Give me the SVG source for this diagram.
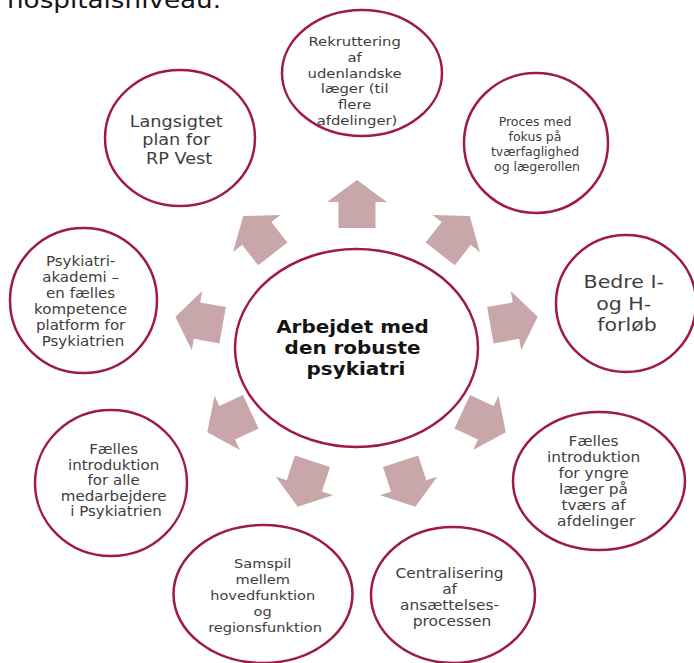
<svg xmlns="http://www.w3.org/2000/svg" width="694" height="663" viewBox="0 0 694 663">
<style>
  .bg { fill: #ffffff; }
  .node ellipse { fill: #ffffff; stroke: #9e1a47; stroke-width: 2.5; }
  .t { font-family: "DejaVu Sans", Verdana, sans-serif; fill: #3e3e3e; text-anchor: middle; }
  .c { font-family: "DejaVu Sans", Verdana, sans-serif; fill: #141414; text-anchor: middle; font-weight: bold; }
  .h { font-family: "DejaVu Sans", Verdana, sans-serif; fill: #141414; }
  .arrow { fill: #c8a6a9; }
</style>
<defs>
  <path id="arr" d="M0,-24 L30,-2 L18.5,-2 L18.5,24 L-18.5,24 L-18.5,-2 L-30,-2 Z"/>
</defs>
<rect class="bg" x="0" y="0" width="694" height="663"/>

<g id="header" transform="translate(7,0) scale(1.14,1)">
  <text class="h" x="0" y="8" font-size="23">hospitalsniveau.</text>
</g>

<g id="connectors" class="arrow">
  <use href="#arr" transform="translate(357,204)"/>
  <use href="#arr" transform="translate(455,235) rotate(38)"/>
  <use href="#arr" transform="translate(514,321) rotate(80)"/>
  <use href="#arr" transform="translate(484,422) rotate(115)"/>
  <use href="#arr" transform="translate(408,484) rotate(162)"/>
  <use href="#arr" transform="translate(305,484) rotate(198)"/>
  <use href="#arr" transform="translate(229,422) rotate(245)"/>
  <use href="#arr" transform="translate(199,321) rotate(280)"/>
  <use href="#arr" transform="translate(258,235) rotate(322)"/>
</g>

<g id="center" class="node">
  <ellipse cx="356.5" cy="348" rx="121.5" ry="99"/>
  <g transform="translate(356,0) scale(1.14,1)">
    <text class="c" font-size="17.5">
      <tspan x="0" y="333">Arbejdet med</tspan>
      <tspan x="0" y="354">den robuste</tspan>
      <tspan x="0" y="375">psykiatri</tspan>
    </text>
  </g>
</g>

<g id="rekruttering" class="node">
  <ellipse cx="362" cy="73" rx="80" ry="63"/>
  <g transform="translate(357,0) scale(1.14,1)">
    <text class="t" font-size="13">
      <tspan x="0" y="46">Rekruttering</tspan>
      <tspan x="0" y="61.8">af</tspan>
      <tspan x="0" y="77.6">udenlandske</tspan>
      <tspan x="0" y="93.4">læger (til</tspan>
      <tspan x="0" y="109.2">flere</tspan>
      <tspan x="0" y="125">afdelinger)</tspan>
    </text>
  </g>
</g>

<g id="langsigtet" class="node">
  <ellipse cx="180" cy="138" rx="75" ry="68"/>
  <g transform="translate(179,0) scale(1.14,1)">
    <text class="t" font-size="15.5">
      <tspan x="0" y="127">Langsigtet</tspan>
      <tspan x="0" y="145.5">plan for</tspan>
      <tspan x="0" y="164">RP Vest</tspan>
    </text>
  </g>
</g>

<g id="proces" class="node">
  <ellipse cx="536" cy="143" rx="72" ry="70"/>
  <g transform="translate(537,0)">
    <text class="t" font-size="12.5">
      <tspan x="0" y="126">Proces med</tspan>
      <tspan x="0" y="141">fokus på</tspan>
      <tspan x="0" y="156">tværfaglighed</tspan>
      <tspan x="0" y="171">og lægerollen</tspan>
    </text>
  </g>
</g>

<g id="psykiatriakademi" class="node">
  <ellipse cx="83.5" cy="300.5" rx="73.5" ry="72.5"/>
  <g transform="translate(83,0) scale(1.14,1)">
    <text class="t" font-size="13.2">
      <tspan x="0" y="266">Psykiatri-</tspan>
      <tspan x="0" y="282">akademi –</tspan>
      <tspan x="0" y="298">en fælles</tspan>
      <tspan x="0" y="314">kompetence</tspan>
      <tspan x="0" y="330">platform for</tspan>
      <tspan x="0" y="346">Psykiatrien</tspan>
    </text>
  </g>
</g>

<g id="bedre" class="node">
  <ellipse cx="626" cy="303.5" rx="70" ry="68.5"/>
  <g transform="translate(627,0) scale(1.14,1)">
    <text class="t" font-size="18">
      <tspan x="0" y="288">Bedre I-</tspan>
      <tspan x="0" y="309.7">og H-</tspan>
      <tspan x="0" y="331.4">forløb</tspan>
    </text>
  </g>
</g>

<g id="faelles-yngre" class="node">
  <ellipse cx="599" cy="481" rx="86" ry="69"/>
  <g transform="translate(596,0) scale(1.14,1)">
    <text class="t" font-size="13.5">
      <tspan x="0" y="446">Fælles</tspan>
      <tspan x="0" y="462">introduktion</tspan>
      <tspan x="0" y="478">for yngre</tspan>
      <tspan x="0" y="494">læger på</tspan>
      <tspan x="0" y="510">tværs af</tspan>
      <tspan x="0" y="526">afdelinger</tspan>
    </text>
  </g>
</g>

<g id="centralisering" class="node">
  <ellipse cx="453" cy="595" rx="82" ry="68"/>
  <g transform="translate(452,0) scale(1.14,1)">
    <text class="t" font-size="13.5">
      <tspan x="0" y="578">Centralisering</tspan>
      <tspan x="0" y="594">af</tspan>
      <tspan x="0" y="610">ansættelses-</tspan>
      <tspan x="0" y="626">processen</tspan>
    </text>
  </g>
</g>

<g id="samspil" class="node">
  <ellipse cx="263" cy="594" rx="89.5" ry="69"/>
  <g transform="translate(265,0) scale(1.14,1)">
    <text class="t" font-size="12.8">
      <tspan x="0" y="568">Samspil</tspan>
      <tspan x="0" y="584">mellem</tspan>
      <tspan x="0" y="600">hovedfunktion</tspan>
      <tspan x="0" y="616">og</tspan>
      <tspan x="0" y="632">regionsfunktion</tspan>
    </text>
  </g>
</g>

<g id="faelles-alle" class="node">
  <ellipse cx="111" cy="483" rx="76" ry="73"/>
  <g transform="translate(116,0) scale(1.14,1)">
    <text class="t" font-size="13.2">
      <tspan x="0" y="454.5">Fælles</tspan>
      <tspan x="0" y="470">introduktion</tspan>
      <tspan x="0" y="485.5">for alle</tspan>
      <tspan x="0" y="501">medarbejdere</tspan>
      <tspan x="0" y="516.5">i Psykiatrien</tspan>
    </text>
  </g>
</g>
</svg>
